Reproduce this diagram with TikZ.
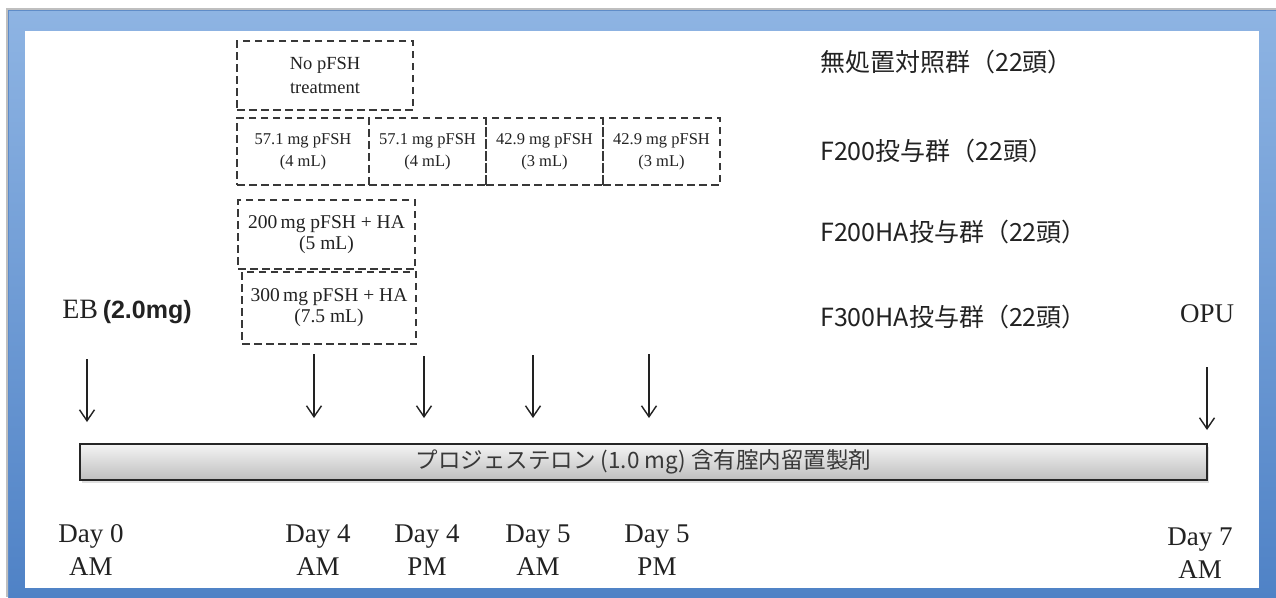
\documentclass[tikz,border=0pt]{standalone}
\usepackage{fontspec}
\setmainfont{Liberation Serif}
\newfontfamily\jpfont{Noto Sans CJK JP}
\newfontfamily\arialfont{Liberation Sans}
\usetikzlibrary{arrows.meta,shadows}
\definecolor{frameTop}{HTML}{8EB4E3}
\definecolor{frameBot}{HTML}{4F82C6}
\definecolor{frameEdge}{HTML}{5F8CC8}
\definecolor{ink}{HTML}{222222}
\definecolor{barTop}{HTML}{F4F4F4}
\definecolor{barBot}{HTML}{BEBEBE}
\begin{document}
\begin{tikzpicture}[x=1pt,y=-1pt,
  dbox/.style={draw=ink!90, line width=1.4pt, dash pattern=on 7.5pt off 4.5pt,
    rectangle, inner sep=0pt, align=center, text=ink},
  grp/.style={anchor=west, text=ink, font=\jpfont\fontsize{25}{28}\selectfont, inner sep=0pt},
  daylab/.style={align=center, text=ink, font=\fontsize{27}{33}\selectfont, inner sep=0pt},
  evt/.style={draw=ink, line width=1.4pt, -{Straight Barb[length=11pt,width=15pt,line width=1.4pt]}}
]
\useasboundingbox (0,0) rectangle (1276,597);
% frame
\fill[black!25] (6,8) rectangle (1276,597);
\shade[top color=frameTop, bottom color=frameBot, draw=frameEdge, line width=0.8pt] (8,10) rectangle (1277,598);
\fill[white] (25,31) rectangle (1259,588);

% dashed boxes
\node[dbox, minimum width=176pt, minimum height=69pt, font=\fontsize{18.5}{24}\selectfont] (none) at (325,75.5) {No pFSH\\treatment};
\node[dbox, minimum width=132pt, minimum height=67pt, font=\fontsize{16.5}{22}\selectfont] (f1) at (303,151.5) {57.1 mg pFSH\\(4 mL)};
\node[dbox, minimum width=117pt, minimum height=67pt, font=\fontsize{16.5}{22}\selectfont] (f2) at (427.5,151.5) {57.1 mg pFSH\\(4 mL)};
\node[dbox, minimum width=117pt, minimum height=67pt, font=\fontsize{16.5}{22}\selectfont] (f3) at (544.5,151.5) {42.9 mg pFSH\\(3 mL)};
\node[dbox, minimum width=117pt, minimum height=67pt, font=\fontsize{16.5}{22}\selectfont] (f4) at (661.5,151.5) {42.9 mg pFSH\\(3 mL)};
\node[dbox, minimum width=177pt, minimum height=69pt, font=\fontsize{19.5}{21}\selectfont] (ha200) at (326.5,234.5) {200\,mg pFSH + HA\\(5 mL)};
\node[dbox, minimum width=174pt, minimum height=72pt, font=\fontsize{19.5}{21}\selectfont] (ha300) at (329,308) {300\,mg pFSH + HA\\(7.5 mL)};

% group labels
\node[grp] (g1) at (820,62) {無処置対照群（22頭）};
\node[grp] (g2) at (820,151) {F200投与群（22頭）};
\node[grp] (g3) at (820,232) {F200HA投与群（22頭）};
\node[grp] (g4) at (820,317) {F300HA投与群（22頭）};

% event labels
\node[text=ink, inner sep=0pt] (eb) at (127,312) {\fontsize{28}{30}\selectfont EB\,{\arialfont\bfseries\fontsize{25}{30}\selectfont(2.0mg)}};
\node[text=ink, inner sep=0pt, font=\fontsize{27}{30}\selectfont] (opu) at (1207,314) {OPU};

% bar
\node[draw=black!85, line width=1.5pt, top color=barTop, bottom color=barBot,
  minimum width=1127pt, minimum height=36pt, inner sep=0pt,
  drop shadow={opacity=0.25, shadow xshift=2pt, shadow yshift=-2.5pt},
  font=\jpfont\fontsize{22.5}{24}\selectfont, text=ink!90] (bar) at (643.5,462)
  {プロジェステロン (1.0 mg) 含有腟内留置製剤};

% arrows
\coordinate (a0s) at (87,359);   \coordinate (a0e) at (87,422);
\coordinate (a1s) at (314,354);  \coordinate (a1e) at (314,418);
\coordinate (a2s) at (424,356);  \coordinate (a2e) at (424,418);
\coordinate (a3s) at (533,355);  \coordinate (a3e) at (533,418);
\coordinate (a4s) at (649,354);  \coordinate (a4e) at (649,418);
\coordinate (a5s) at (1207,367); \coordinate (a5e) at (1207,430);
\draw[evt] (a0s) -- (a0e);
\draw[evt] (a1s) -- (a1e);
\draw[evt] (a2s) -- (a2e);
\draw[evt] (a3s) -- (a3e);
\draw[evt] (a4s) -- (a4e);
\draw[evt] (a5s) -- (a5e);

% day labels
\node[daylab] (d0) at (91,550) {Day 0\\AM};
\node[daylab] (d4a) at (318,550) {Day 4\\AM};
\node[daylab] (d4p) at (427,550) {Day 4\\PM};
\node[daylab] (d5a) at (538,550) {Day 5\\AM};
\node[daylab] (d5p) at (657,550) {Day 5\\PM};
\node[daylab] (d7) at (1200,553) {Day 7\\AM};
\end{tikzpicture}
\end{document}
